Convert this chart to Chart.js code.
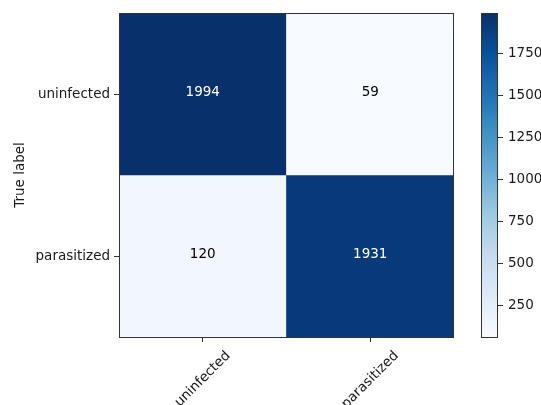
<!DOCTYPE html>
<html>
<head>
<meta charset="utf-8">
<script src="https://cdn.jsdelivr.net/npm/chart.js@4.4.1/dist/chart.umd.min.js"></script>
<style>
  html, body { margin: 0; padding: 0; background: #fff; }
  #wrap { position: relative; width: 541px; height: 405px; overflow: hidden; }
  canvas { position: absolute; top: 0; }
  #cm { left: 0; }
  #cbar { left: 470px; }
</style>
</head>
<body>
<div id="wrap">
  <canvas id="cm" width="541" height="405"></canvas>
  <canvas id="cbar" width="71" height="405"></canvas>
</div>
<script>
// confusion matrix counts, rows = true label, columns = predicted label
const classNames = ['uninfected', 'parasitized'];
const rowUninfected = [1994, 59];
const rowParasitized = [120, 1931];
const colorbarTicks = [250, 500, 750, 1000, 1250, 1500, 1750];

const counts = [rowUninfected, rowParasitized];
const allVals = counts.flat();
const vmin = Math.min(...allVals);
const vmax = Math.max(...allVals);
const thresh = vmax / 2;

// matplotlib "Blues" colormap
const bluesStops = ['#f7fbff', '#deebf7', '#c6dbef', '#9ecae1', '#6baed6',
                    '#4292c6', '#2171b5', '#08519c', '#08306b'];

function hexToRgb(h) {
    return [1, 3, 5].map(i => parseInt(h.substr(i, 2), 16));
}

function blues(t) {
    t = Math.max(0, Math.min(1, t));
    const pos = t * (bluesStops.length - 1);
    const i = Math.min(Math.floor(pos), bluesStops.length - 2);
    const f = pos - i;
    const a = hexToRgb(bluesStops[i]);
    const b = hexToRgb(bluesStops[i + 1]);
    const c = a.map((v, k) => Math.round(v + (b[k] - v) * f));
    return `rgb(${c[0]}, ${c[1]}, ${c[2]})`;
}

const FONT = { family: 'DejaVu Sans', size: 13.5 };
const TXT = '#1a1a1a';

// box around the plotting area
const frame = {
    id: 'frame',
    afterDraw(chart) {
        const { ctx, chartArea: a } = chart;
        ctx.save();
        ctx.strokeStyle = '#333';
        ctx.lineWidth = 1;
        ctx.strokeRect(a.left + 0.5, a.top + 0.5, a.width - 1, a.height);
        ctx.restore();
    }
};

// count written in the middle of each cell
const cellText = {
    id: 'cellText',
    afterDatasetsDraw(chart) {
        const ctx = chart.ctx;
        ctx.save();
        ctx.font = `${FONT.size}px "${FONT.family}"`;
        ctx.textAlign = 'center';
        ctx.textBaseline = 'middle';
        chart.data.datasets.forEach((ds, i) => {
            chart.getDatasetMeta(i).data.forEach((bar, j) => {
                const v = ds.counts[j];
                ctx.fillStyle = v > thresh ? '#fff' : '#000';
                ctx.fillText(String(v), bar.x, (bar.y + bar.base) / 2 - 2);
            });
        });
        ctx.restore();
    }
};

// predicted-label names, rotated 45 degrees and centred under the ticks
const xLabels = {
    id: 'xLabels',
    afterDraw(chart) {
        const { ctx, chartArea: a, scales: { x } } = chart;
        ctx.save();
        ctx.font = `${FONT.size}px "${FONT.family}"`;
        ctx.fillStyle = TXT;
        ctx.textAlign = 'center';
        ctx.textBaseline = 'middle';
        classNames.forEach((name, i) => {
            const px = x.getPixelForValue(i);
            const w = ctx.measureText(name).width;
            const half = (w + 16) * Math.SQRT1_2 / 2;
            ctx.save();
            ctx.translate(px, a.bottom + 11 + half);
            ctx.rotate(-Math.PI / 4);
            ctx.fillText(name, 0, 0);
            ctx.restore();
        });
        ctx.restore();
    }
};

const datasets = counts.map((row, r) => ({
    label: classNames[r],
    data: row.map(() => [r - 0.5, r + 0.5]),
    counts: row,
    backgroundColor: row.map(v => blues((v - vmin) / (vmax - vmin))),
    borderWidth: 0,
    grouped: false,
    categoryPercentage: 1,
    barPercentage: 1
}));

new Chart(document.getElementById('cm'), {
    type: 'bar',
    data: { labels: classNames, datasets },
    options: {
        responsive: false,
        animation: false,
        devicePixelRatio: 1,
        layout: { padding: { top: 13, right: 87, left: 0, bottom: 0 } },
        plugins: { legend: { display: false }, tooltip: { enabled: false } },
        scales: {
            x: {
                type: 'category',
                offset: true,
                grid: { offset: false, drawOnChartArea: false, drawTicks: true, tickLength: 5, color: '#333' },
                border: { display: false },
                ticks: { display: false },
                afterFit(s) { s.height = 68; }
            },
            y: {
                type: 'linear',
                min: -0.5,
                max: 1.5,
                reverse: true,
                afterBuildTicks(s) { s.ticks = classNames.map((_, i) => ({ value: i })); },
                ticks: { callback: v => classNames[v], font: FONT, color: TXT, padding: 4 },
                grid: { drawOnChartArea: false, tickLength: 5, color: '#333' },
                border: { display: false },
                title: { display: true, text: 'True label', font: FONT, color: TXT, padding: { top: 12, bottom: 0 } },
                afterFit(s) { s.width = 119; }
            }
        }
    },
    plugins: [cellText, frame, xLabels]
});

// colour bar
new Chart(document.getElementById('cbar'), {
    type: 'bar',
    data: {
        labels: [''],
        datasets: [{
            data: [[vmin, vmax]],
            backgroundColor(c) {
                const chart = c.chart;
                const y = chart.scales.y;
                if (!chart.chartArea || !y) return blues(0.5);
                const g = chart.ctx.createLinearGradient(0, y.getPixelForValue(vmin), 0, y.getPixelForValue(vmax));
                bluesStops.forEach((col, i) => g.addColorStop(i / (bluesStops.length - 1), col));
                return g;
            },
            borderWidth: 0,
            categoryPercentage: 1,
            barPercentage: 1
        }]
    },
    options: {
        responsive: false,
        animation: false,
        devicePixelRatio: 1,
        layout: { padding: { top: 13, left: 11, bottom: 68, right: 0 } },
        plugins: { legend: { display: false }, tooltip: { enabled: false } },
        scales: {
            x: { display: false },
            y: {
                position: 'right',
                min: vmin,
                max: vmax,
                afterBuildTicks(s) { s.ticks = colorbarTicks.map(v => ({ value: v })); },
                ticks: { callback: v => String(v), font: FONT, color: TXT, padding: 5 },
                grid: { drawOnChartArea: false, tickLength: 5, color: '#333' },
                border: { display: false },
                afterFit(s) { s.width = 43; }
            }
        }
    },
    plugins: [frame]
});
</script>
</body>
</html>
